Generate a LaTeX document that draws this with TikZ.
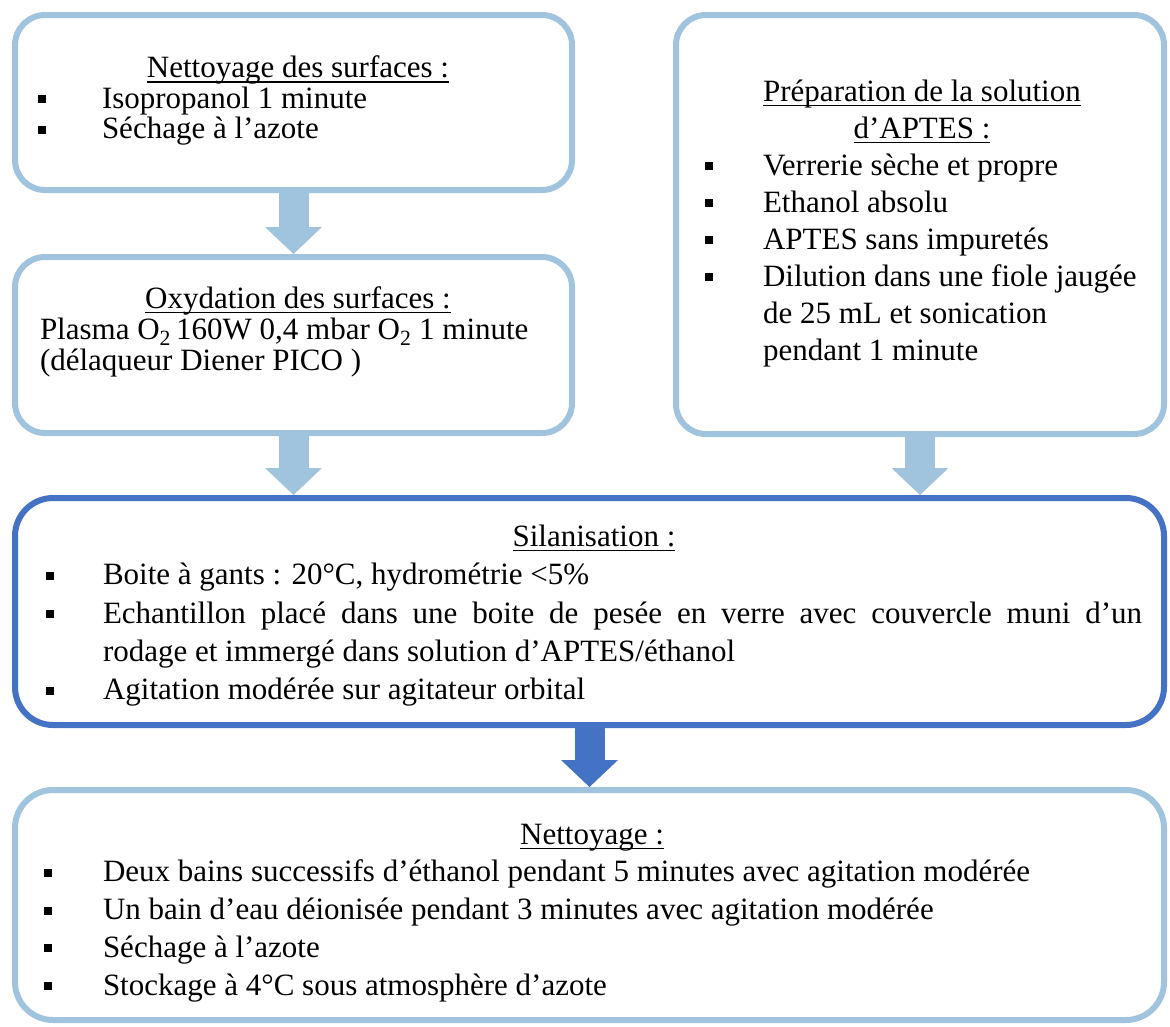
\documentclass[tikz,border=0pt]{standalone}
\usepackage{fontspec}
\setmainfont{Liberation Serif}
\usetikzlibrary{arrows.meta}
\definecolor{PaleBlue}{RGB}{160,196,222}
\definecolor{StrongBlue}{RGB}{68,114,196}
\newlength{\bulind}
\newcommand{\txtsetup}[1]{\setlength{\bulind}{#1}\lineskiplimit=-100pt\relax\tolerance=9999\relax}
\newcommand{\tline}[1]{\setbox0=\hbox{#1}\rlap{\vrule depth 4.8pt height -3.5pt width \wd0}\box0}
\newcommand{\head}[1]{\par\noindent\hbox to\hsize{\hss\vrule width 0pt height 25pt\tline{#1}\hss}\par}
\newcommand{\bitem}[1]{\par\noindent\hangindent=\bulind\hangafter=1
  \hbox to\bulind{\vrule width 8pt height 13pt depth -5pt\hss}#1\par}
\tikzset{
  panel/.style={draw=PaleBlue,line width=6pt,rounded corners=30pt,fill=white,inner sep=0pt},
  bigpanel/.style={panel,rounded corners=38pt},
  keypanel/.style={bigpanel,draw=StrongBlue},
  txt/.style={anchor=north,inner sep=0pt,align=justify,font=\fontsize{31}{#1}\selectfont},
  flow/.style={line width=30pt,-{Triangle[length=27pt 0 0,width=57pt 0 0,line width=0pt 0 0]}},
  flowpale/.style={flow,draw=PaleBlue},
  flowkey/.style={flow,draw=StrongBlue},
}
\begin{document}
\begin{tikzpicture}[x=1pt,y=-1pt]
  \useasboundingbox (0,0) rectangle (1170,1026);
  \node[panel,minimum width=557pt,minimum height=175pt] (surf) at (293.5,102.5) {};
  \node[panel,minimum width=557pt,minimum height=176pt] (oxyd) at (293.5,345) {};
  \node[panel,minimum width=488pt,minimum height=419pt] (prep) at (920,224.5) {};
  \node[keypanel,minimum width=1149pt,minimum height=227pt] (sil) at (589.5,611.5) {};
  \node[bigpanel,minimum width=1149pt,minimum height=230pt] (nett) at (589.5,905) {};

  \node[txt=30.5pt,text width=520pt] (surf-txt) at (298,47) {\txtsetup{64pt}%
    \head{Nettoyage des surfaces :}%
    \bitem{Isopropanol 1 minute}%
    \bitem{Séchage à l’azote}};
  \node[txt=31pt,text width=516pt] (oxyd-txt) at (298,277) {\txtsetup{0pt}%
    \head{Oxydation des surfaces :}%
    \noindent Plasma O\textsubscript{2}\,160W 0,4 mbar O\textsubscript{2} 1 minute\newline
    (délaqueur Diener PICO )};
  \node[txt=37pt,text width=434pt] (prep-txt) at (922,64) {\txtsetup{58pt}%
    \head{Préparation de la solution}%
    \noindent\hbox to\hsize{\hss\tline{d’APTES :}\hss}\par
    \bitem{Verrerie sèche et propre}%
    \bitem{Ethanol absolu}%
    \bitem{APTES sans impuretés}%
    \bitem{\mbox{Dilution dans une fiole jaugée}\newline de 25 mL et sonication\newline pendant 1 minute}};
  \node[txt=38.3pt,text width=1096pt] (sil-txt) at (594,508) {\txtsetup{57pt}%
    \head{Silanisation :}%
    \bitem{Boite à gants : 20°C, hydrométrie <5\%}%
    \bitem{Echantillon placé dans une boite de pesée en verre avec couvercle muni d’un\linebreak
      rodage et immergé dans solution d’APTES/éthanol}%
    \bitem{Agitation modérée sur agitateur orbital}};
  \node[txt=37.8pt,text width=1096pt] (nett-txt) at (592,806) {\txtsetup{59pt}%
    \head{Nettoyage :}%
    \bitem{Deux bains successifs d’éthanol pendant 5 minutes avec agitation modérée}%
    \bitem{Un bain d’eau déionisée pendant 3 minutes avec agitation modérée}%
    \bitem{Séchage à l’azote}%
    \bitem{Stockage à 4°C sous atmosphère d’azote}};

  \draw[flowpale] (surf.south) -- (oxyd.north);
  \draw[flowpale] (oxyd.south) -- (oxyd.south |- sil.north);
  \draw[flowpale] (prep.south) -- (prep.south |- sil.north);
  \draw[flowkey] (sil.south) -- (nett.north);
\end{tikzpicture}
\end{document}
